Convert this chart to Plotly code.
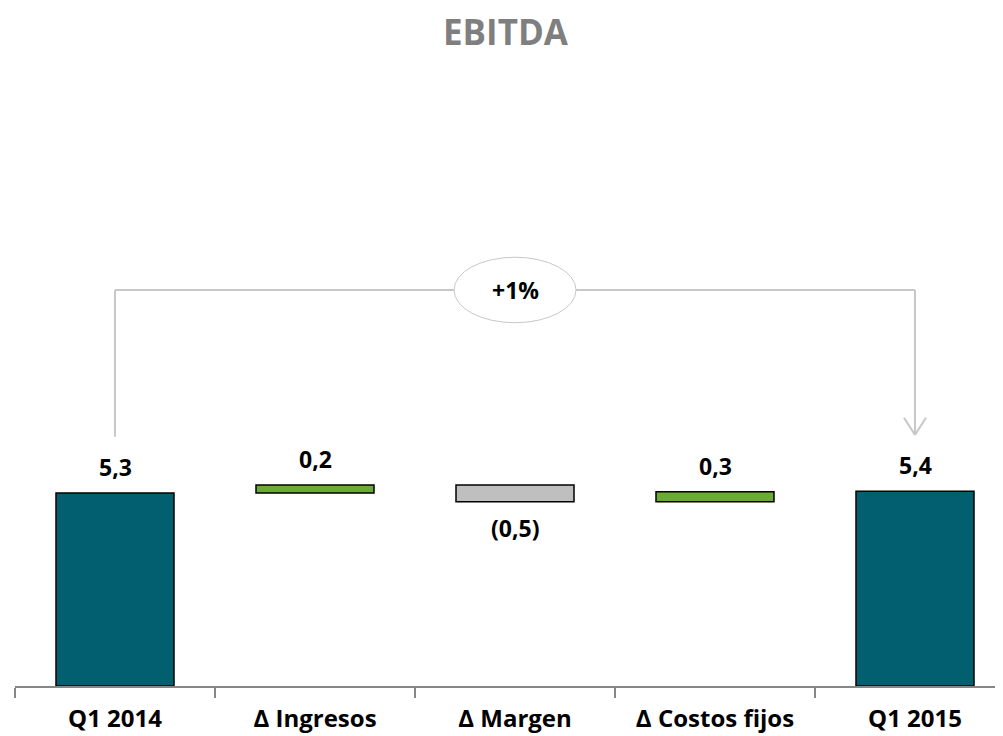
import plotly.graph_objects as go

# EBITDA bridge (bar heights in millions)
categories = ["Q1 2014", "Δ Ingresos", "Δ Margen", "Δ Costos fijos", "Q1 2015"]
values = [5.30, 0.22, -0.46, 0.28, 5.35]
measures = ["absolute", "relative", "relative", "relative", "absolute"]
labels = ["5,3", "0,2", "(0,5)", "0,3", "5,4"]

TEAL = "#015f6f"
GREEN = "#6aaa35"
GREY = "#bfbfbf"
LINE = "#c8c8c8"
FONT = "Open Sans, Lato, sans-serif"

fig = go.Figure(go.Waterfall(
    x=categories, y=values, measure=measures,
    width=[0.59] * len(values),
    connector=dict(visible=False),
    increasing=dict(marker=dict(color=GREEN, line=dict(color="black", width=1.5))),
    decreasing=dict(marker=dict(color=GREY, line=dict(color="black", width=1.5))),
    totals=dict(marker=dict(color=TEAL, line=dict(color="black", width=1.5))),
))

# value labels: above the bar end for rises/totals, below for drops
level = 0
for cat, v, m, lab in zip(categories, values, measures, labels):
    if m == "absolute":
        lo, hi, level = 0, v, v
    else:
        lo, hi = sorted([level, level + v])
        level += v
    down = m == "relative" and v < 0
    fig.add_annotation(x=cat, y=lo if down else hi, text=f"<b>{lab}</b>", showarrow=False,
                       yanchor="top" if down else "bottom", yshift=-8 if down else 8,
                       font=dict(family=FONT, size=23, color="black"))

# bracket with "+x%" bubble between the two periods
pct = values[-1] / values[0] - 1
top = 10.88
left_bot = values[0] + 1.55
right_bot = values[-1] + 1.55
ex, ew, eh = 2.0, 0.305, 0.9
seg = dict(type="line", xref="x", yref="y", line=dict(color=LINE, width=2), layer="below")
shapes = [
    dict(seg, x0=0, x1=0, y0=left_bot, y1=top),
    dict(seg, x0=0, x1=ex - ew, y0=top, y1=top),
    dict(seg, x0=ex + ew, x1=4, y0=top, y1=top),
    dict(seg, x0=4, x1=4, y0=top, y1=right_bot),
    dict(seg, x0=4 - 0.055, x1=4, y0=right_bot + 0.47, y1=right_bot),
    dict(seg, x0=4 + 0.055, x1=4, y0=right_bot + 0.47, y1=right_bot),
    dict(type="circle", xref="x", yref="y", x0=ex - ew, x1=ex + ew, y0=top - eh, y1=top + eh,
         line=dict(color=LINE, width=1), fillcolor="white"),
]

fig.add_annotation(x=ex, y=top, text=f"<b>{pct:+.0%}</b>", showarrow=False,
                   font=dict(family=FONT, size=23, color="black"))

fig.update_layout(
    width=995, height=728,
    margin=dict(l=7, r=0, t=112, b=50),
    plot_bgcolor="white", paper_bgcolor="white",
    showlegend=False,
    title=dict(text="<b>EBITDA</b>", x=0.5, xanchor="center", y=0.983, yanchor="top",
               font=dict(family=FONT, size=35, color="#7f7f7f")),
    shapes=shapes,
    font=dict(family=FONT),
)
fig.update_xaxes(
    type="category", range=[-0.5, 4.44],
    showline=True, linecolor="#878787", linewidth=1.5,
    ticks="outside", tickson="boundaries", ticklen=10, tickcolor="#878787", tickwidth=1.5,
    tickfont=dict(family=FONT, size=24, color="black"),
    tickprefix="<b>", ticksuffix="</b>", ticklabelstandoff=10,
    showgrid=False,
)
fig.update_yaxes(range=[0, 15.55], visible=False, showgrid=False)

fig.write_html("out.html")
